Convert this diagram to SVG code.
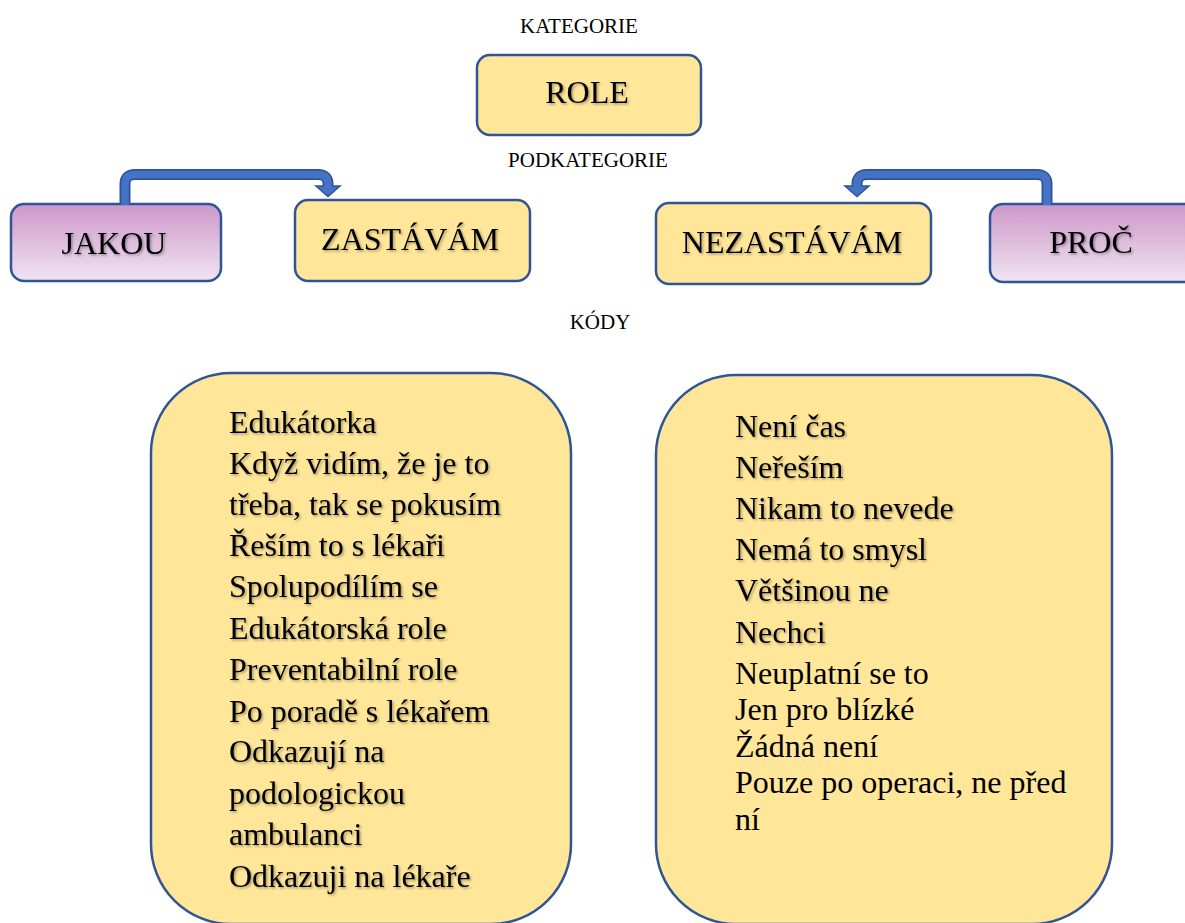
<svg xmlns="http://www.w3.org/2000/svg" width="1185" height="923" viewBox="0 0 1185 923">
  <defs>
    <linearGradient id="purpleFill" x1="0" y1="0" x2="0" y2="1">
      <stop offset="0" stop-color="#cd97ca"/>
      <stop offset="1" stop-color="#f0e4f0"/>
    </linearGradient>
    <filter id="softShadow" x="-10%" y="-30%" width="120%" height="160%">
      <feDropShadow dx="1.5" dy="1.5" stdDeviation="1" flood-color="#000" flood-opacity="0.35"/>
    </filter>
    <style>
      .box { stroke: #2f5597; stroke-width: 2.5; }
      .gold { fill: #ffe699; }
      .purple { fill: url(#purpleFill); }
      .label { font-family: "Liberation Serif", "Times New Roman", serif; font-size: 21px; fill: #000; text-anchor: middle; }
      .node { font-family: "Liberation Serif", "Times New Roman", serif; font-size: 32px; fill: #000; text-anchor: middle; filter: url(#softShadow); }
      .code { font-family: "Liberation Serif", "Times New Roman", serif; font-size: 32px; fill: #000; }
      .shadow { filter: url(#softShadow); }
      .shaftOuter { fill: none; stroke: #2f5597; stroke-width: 11; }
      .shaftInner { fill: none; stroke: #4472c4; stroke-width: 7.5; }
      .head { fill: #4472c4; stroke: #2f5597; stroke-width: 1.5; stroke-linejoin: miter; }
    </style>
  </defs>

  <rect width="1185" height="923" fill="#ffffff"/>

  <!-- level captions -->
  <text class="label" x="579" y="33">KATEGORIE</text>
  <text class="label" x="588" y="167">PODKATEGORIE</text>
  <text class="label" x="600" y="329">KÓDY</text>

  <!-- category -->
  <g id="role">
    <rect class="box gold" x="477" y="55" width="224" height="80" rx="13"/>
    <text class="node" x="587" y="103">ROLE</text>
  </g>

  <!-- subcategories -->
  <g id="jakou">
    <rect class="box purple" x="11" y="204" width="210" height="77" rx="13"/>
    <text class="node" x="114" y="254">JAKOU</text>
  </g>
  <g id="zastavam">
    <rect class="box gold" x="295" y="200" width="235" height="81" rx="13"/>
    <text class="node" x="410" y="250">ZASTÁVÁM</text>
  </g>
  <g id="nezastavam">
    <rect class="box gold" x="656" y="203" width="275" height="81" rx="13"/>
    <text class="node" x="792" y="253">NEZASTÁVÁM</text>
  </g>
  <g id="proc">
    <rect class="box purple" x="990" y="204" width="215" height="78" rx="13"/>
    <text class="node" x="1091" y="253">PROČ</text>
  </g>

  <!-- connectors -->
  <g id="connectors">
    <path class="shaftOuter" d="M125,204 V184 Q125,174.5 135,174.5 H318 Q328,174.5 328,184 V187"/>
    <polygon class="head" points="316,186 340,186 328,196.5"/>
    <path class="shaftInner" d="M125,205 V184 Q125,174.5 135,174.5 H318 Q328,174.5 328,184 V188"/>

    <path class="shaftOuter" d="M1047,204 V184 Q1047,174.5 1037,174.5 H867 Q857,174.5 857,184 V187"/>
    <polygon class="head" points="845,186 869,186 857,196.5"/>
    <path class="shaftInner" d="M1047,205 V184 Q1047,174.5 1037,174.5 H867 Q857,174.5 857,184 V188"/>
  </g>

  <!-- codes: left -->
  <g id="codes-zastavam">
    <rect class="box gold" x="151" y="373" width="420" height="551" rx="80"/>
    <g class="code shadow">
      <text x="229" y="433">Edukátorka</text>
      <text x="229" y="474">Když vidím, že je to</text>
      <text x="229" y="515">třeba, tak se pokusím</text>
      <text x="229" y="556">Řeším to s lékaři</text>
      <text x="229" y="597">Spolupodílím se</text>
      <text x="229" y="639">Edukátorská role</text>
      <text x="229" y="680">Preventabilní role</text>
      <text x="229" y="722">Po poradě s lékařem</text>
      <text x="229" y="762">Odkazují na</text>
      <text x="229" y="804">podologickou</text>
      <text x="229" y="845">ambulanci</text>
      <text x="229" y="887">Odkazuji na lékaře</text>
    </g>
  </g>

  <!-- codes: right -->
  <g id="codes-nezastavam">
    <rect class="box gold" x="656" y="375" width="456" height="549" rx="80"/>
    <g class="code shadow">
      <text x="735" y="437">Není čas</text>
      <text x="735" y="478">Neřeším</text>
      <text x="735" y="519">Nikam to nevede</text>
      <text x="735" y="560">Nemá to smysl</text>
      <text x="735" y="601">Většinou ne</text>
      <text x="735" y="643">Nechci</text>
    </g>
    <g class="code">
      <text x="735" y="684">Neuplatní se to</text>
      <text x="735" y="720">Jen pro blízké</text>
      <text x="735" y="757">Žádná není</text>
      <text x="735" y="793">Pouze po operaci, ne před</text>
      <text x="735" y="830">ní</text>
    </g>
  </g>
</svg>
